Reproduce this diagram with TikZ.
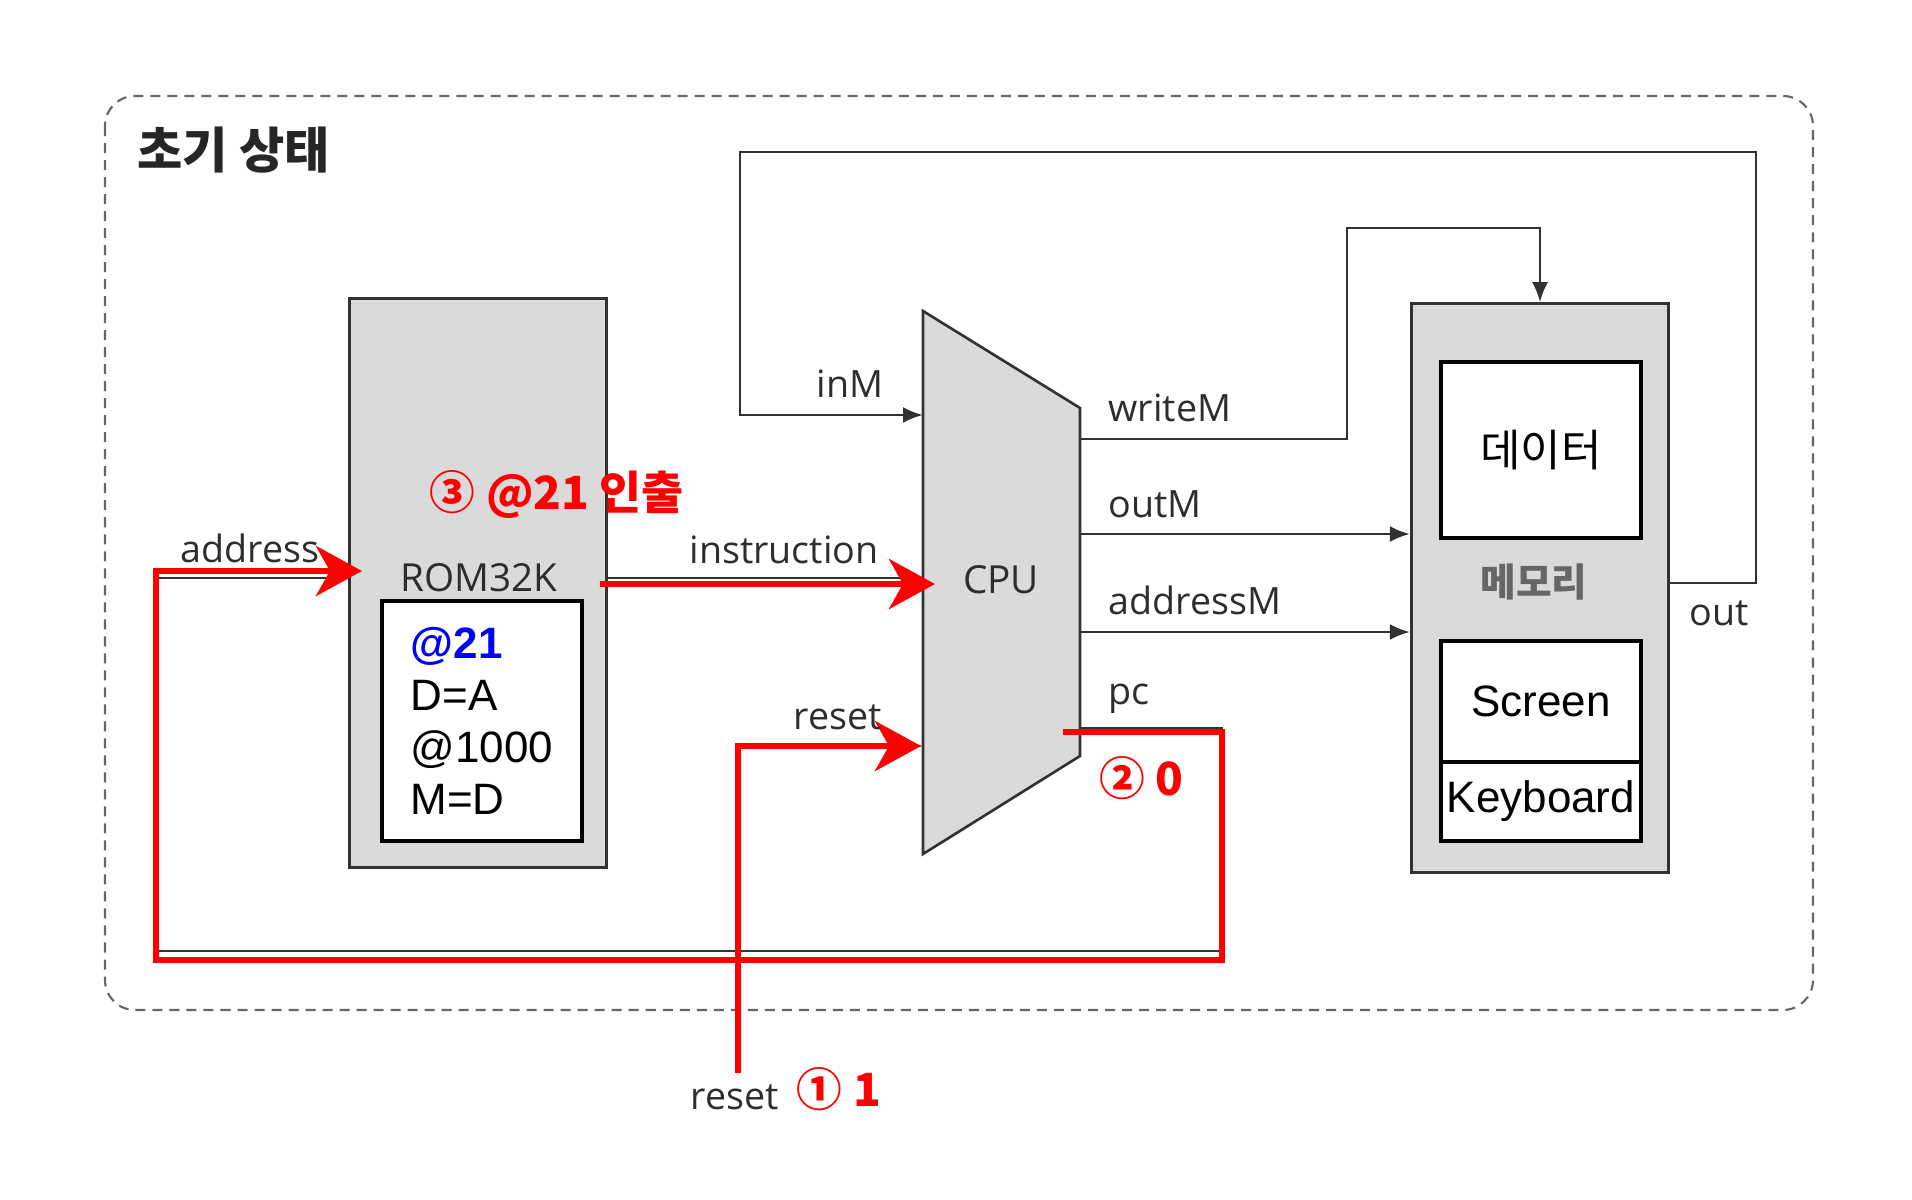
\documentclass[tikz,border=0pt]{standalone}
\usepackage{fontspec}
\setmainfont{Open Sans}
\newfontfamily\cjk{Noto Sans CJK KR}
\newfontfamily\arial{Liberation Sans}
\usetikzlibrary{positioning,arrows.meta,calc}
\definecolor{chipgray}{RGB}{218,218,218}
\definecolor{wiregray}{RGB}{50,50,50}
\definecolor{labelgray}{RGB}{45,45,45}
\definecolor{hotred}{RGB}{255,0,0}

\begin{document}
\begin{tikzpicture}[x=0.01cm,y=-0.01cm,
  chip/.style={draw=wiregray,line width=0.9pt,fill=chipgray,minimum width=2.57cm,minimum height=5.68cm,inner sep=0pt},
  cell/.style={draw=black,line width=1.2pt,fill=white,minimum width=2cm,inner sep=0pt,font=\arial\fontsize{12.5}{15}\selectfont},
  wire/.style={draw=wiregray,line width=0.75pt},
  tip/.style={-{Latex[length=2mm,width=1.6mm]}},
  lbl/.style={text=labelgray,font=\fontsize{10.7}{12}\selectfont,inner sep=0pt},
  hot/.style={draw=hotred,line width=1.8pt},
  hottip/.style={-{Stealth[length=4.6mm,width=5mm,inset=1.4mm]}},
  note/.style={text=hotred,font=\cjk\bfseries\fontsize{13}{15}\selectfont,inner sep=0pt}]
  \useasboundingbox (0,0) rectangle (1912,1200);

  \draw[draw=black!60,line width=0.6pt,dash pattern=on 1mm off 0.7mm,rounded corners=0.3cm] (105,96) rectangle (1813,1010);
  \node[anchor=west,inner sep=0pt,font=\cjk\bfseries\fontsize{14}{16}\selectfont,text=black!85] (title) at (137,150) {초기 상태};

  \node[chip] (rom) at (478,583) {};
  \node[lbl,font=\fontsize{11}{13}\selectfont] (romname) at (479,578) {ROM32K};
  \node[cell,minimum height=2.40cm] (code) at (482,721) {};
  \node[anchor=west,align=left,inner sep=0pt,font=\arial\fontsize{12.5}{14.8}\selectfont] (prog) at (410,721)
    {\textcolor{blue}{\bfseries @21}\\D=A\\@1000\\M=D};

  \coordinate (cpu-nw) at (923,311);
  \coordinate (cpu-ne) at (1080,408);
  \coordinate (cpu-se) at (1080,756);
  \coordinate (cpu-sw) at (923,854);
  \draw[wire,fill=chipgray] (cpu-nw) -- (cpu-ne) -- (cpu-se) -- (cpu-sw) -- cycle;
  \node[lbl,font=\fontsize{11}{13}\selectfont] (cpu) at (1001,580) {CPU};

  \node[chip] (mem) at (1540,588) {};
  \node[cell,minimum height=1.76cm] (data) at (1541,450) {\cjk 데이터};
  \node[cell,minimum height=1.21cm] (screen) at (1541,701.5) {Screen};
  \node[cell,minimum height=0.79cm] (kbd) at (1541,801.5) {Keyboard};
  \node[lbl,font=\cjk\bfseries\fontsize{11}{13}\selectfont,text=black!60] (memname) at (1534,582) {메모리};

  \draw[wire,tip] (mem.east |- 0,583) -- (1756,583) -- (1756,152) -- (740,152) -- (740,415) -- (cpu-nw |- 0,415);
  \draw[wire,tip] (cpu-ne |- 0,439) -- (1347,439) -- (1347,228) -- (1540,228) -- (mem.north);
  \foreach \y in {534,632} {
    \draw[wire,tip] (cpu-ne |- 0,\y) -- (mem.west |- 0,\y);
  }
  \draw[wire,tip] (cpu-se |- 0,728) -- (1222,728) -- (1222,951) -- (156,951) -- (156,578) -- (rom.west |- 0,578);
  \draw[wire,tip] (rom.east |- 0,578) -- (cpu-nw |- 0,578);
  \draw[wire,tip] (738,1070) -- (738,746) -- (cpu-sw |- 0,746);

  \draw[hot,hottip] (1063,732) -- (1222,732) -- (1222,960) -- (156,960) -- (156,571) -- (362,571);
  \draw[hot,hottip] (600,584) -- (935,584);
  \draw[hot,hottip] (738,1073) -- (738,746) -- (921,746);

  \node[lbl] (l-inM) at (850,384) {inM};
  \node[lbl,anchor=west] (l-writeM) at (1108,408) {writeM};
  \node[lbl,anchor=west] (l-outM) at (1108,504) {outM};
  \node[lbl,anchor=west] (l-addressM) at (1108,600) {addressM};
  \node[lbl,anchor=west] (l-pc) at (1108,699) {pc};
  \node[lbl] (l-out) at (1719,613) {out};
  \node[lbl] (l-address) at (250,548) {address};
  \node[lbl] (l-instruction) at (784,550) {instruction};
  \node[lbl] (l-reset) at (838,717) {reset};
  \node[lbl] (l-reset2) at (735,1097) {reset};

  \node[note] (n-three) at (557,494) {③ @21 인출};
  \node[note] (n-two) at (1141,778) {② 0};
  \node[note] (n-one) at (839,1089) {① 1};
\end{tikzpicture}
\end{document}
